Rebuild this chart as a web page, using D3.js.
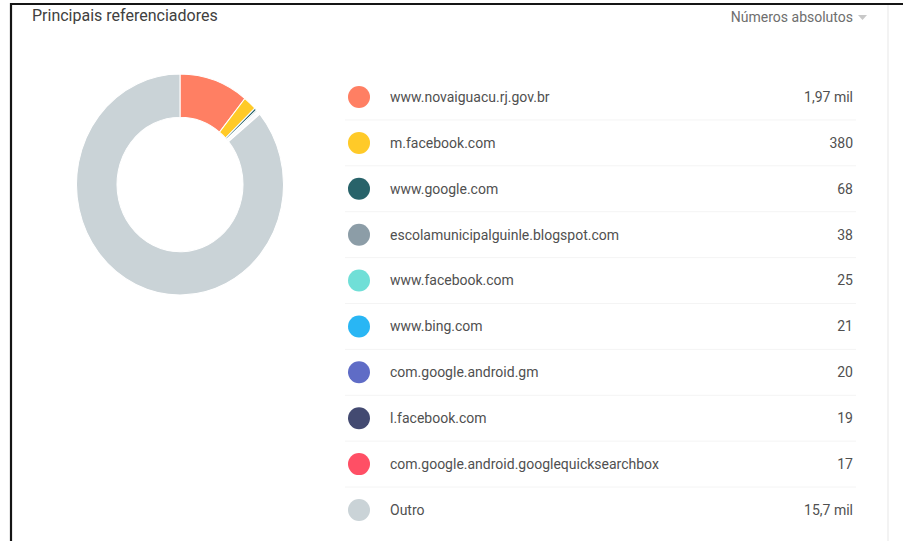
<!DOCTYPE html>
<html>
<head>
<meta charset="utf-8">
<script src="https://cdn.jsdelivr.net/npm/d3@7"></script>
<style>
  body { margin: 0; background: #fff; }
  svg { display: block; font-family: Roboto, "Noto Sans", sans-serif; }
</style>
</head>
<body>
<div id="viz"></div>
<script>
const referrers = ['www.novaiguacu.rj.gov.br', 'm.facebook.com', 'www.google.com',
  'escolamunicipalguinle.blogspot.com', 'www.facebook.com', 'www.bing.com',
  'com.google.android.gm', 'l.facebook.com', 'com.google.android.googlequicksearchbox', 'Outro'];
const visits = [1970, 380, 68, 38, 25, 21, 20, 19, 17, 15700];
const colors = ['#ff7f63', '#ffca28', '#28636a', '#8c9da7', '#70dfd7',
  '#29b6f4', '#5f6cc6', '#434a71', '#ff4f65', '#cad3d7'];

const width = 903, height = 541;
const rows = referrers.map((name, i) => ({ name, value: visits[i], color: colors[i] }));

const svg = d3.select('#viz').append('svg')
  .attr('width', width)
  .attr('height', height);

// card frame
svg.append('line')
  .attr('x1', 10).attr('x2', width).attr('y1', 4).attr('y2', 4)
  .attr('stroke', '#151515').attr('stroke-width', 2.2);
svg.append('line')
  .attr('x1', 11).attr('x2', 11).attr('y1', 3).attr('y2', height)
  .attr('stroke', '#151515').attr('stroke-width', 2.2);
svg.append('line')
  .attr('x1', 888).attr('x2', 888).attr('y1', 5).attr('y2', height)
  .attr('stroke', '#f3f3f3').attr('stroke-width', 2);

svg.append('text')
  .attr('x', 32).attr('y', 21)
  .attr('font-size', 16).attr('fill', '#404040')
  .text('Principais referenciadores');

svg.append('text')
  .attr('x', 853).attr('y', 22)
  .attr('text-anchor', 'end')
  .attr('font-size', 14).attr('fill', '#6e6e6e')
  .text('Números absolutos');
svg.append('path')
  .attr('d', 'M858,15 L867,15 L862.5,20 Z')
  .attr('fill', '#c8c8c8');

// donut (the screenshot is slightly stretched vertically)
const pie = d3.pie().sort(null).value(d => d.value);
const arc = d3.arc().innerRadius(63).outerRadius(103.5);

svg.append('g')
  .attr('transform', 'translate(180,184.5) scale(1,1.067)')
  .selectAll('path')
  .data(pie(rows))
  .join('path')
  .attr('d', arc)
  .attr('fill', d => d.data.color)
  .attr('stroke', '#fff')
  .attr('stroke-width', 1);

// legend table
const y = d3.scalePoint()
  .domain(referrers)
  .range([97, 510]);
const step = y.step();

const fmt = v => v >= 1000
  ? d3.format('.3')(v / 1000).replace('.', ',') + ' mil'
  : String(v);

const legend = svg.append('g');

legend.selectAll('line')
  .data(referrers.slice(0, -1))
  .join('line')
  .attr('x1', 345).attr('x2', 856)
  .attr('y1', d => y(d) + step / 2)
  .attr('y2', d => y(d) + step / 2)
  .attr('stroke', '#f4f4f4')
  .attr('stroke-width', 1);

const row = legend.selectAll('g.row')
  .data(rows)
  .join('g')
  .attr('class', 'row')
  .attr('transform', d => `translate(0,${y(d.name)})`);

row.append('circle')
  .attr('cx', 359).attr('cy', 0).attr('r', 11)
  .attr('fill', d => d.color);

row.append('text')
  .attr('x', 390).attr('dy', '0.35em')
  .attr('font-size', 14).attr('fill', '#505050')
  .text(d => d.name);

row.append('text')
  .attr('x', 853).attr('dy', '0.35em')
  .attr('text-anchor', 'end')
  .attr('font-size', 14).attr('fill', '#505050')
  .text(d => fmt(d.value));
</script>
</body>
</html>
